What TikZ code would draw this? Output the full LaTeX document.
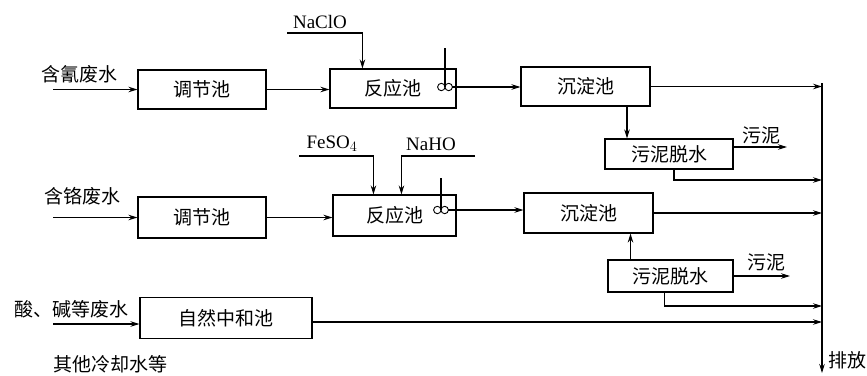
\documentclass[tikz,border=0pt]{standalone}
\usepackage{fontspec}
\setmainfont{Liberation Serif}
\newfontfamily\cjk{Noto Sans CJK SC}
\usetikzlibrary{arrows.meta}

\begin{document}
\begin{tikzpicture}[x=1pt,y=-1pt,line width=1.1pt,
	box/.style={draw,inner sep=0pt,font=\cjk\fontsize{19}{21}\selectfont},
	lbl/.style={inner sep=0pt,font=\cjk\fontsize{19}{21}\selectfont},
	chem/.style={inner sep=0pt,font=\fontsize{19}{22}\selectfont},
	>={Stealth[length=9pt,width=5.5pt]}]
	\useasboundingbox (0,0) rectangle (867,375);
	
	\node[box,minimum width=128pt,minimum height=39pt] (tj1) at (202,89.5) {调节池};
	\node[box,minimum width=126pt,minimum height=39pt] (fy1) at (393,88.5) {反应池\hspace{12pt}};
	\node[box,minimum width=129pt,minimum height=39pt] (cd1) at (585.5,86.5) {沉淀池};
	\node[box,minimum width=128pt,minimum height=30pt] (ws1) at (669,154) {污泥脱水};
	
	\node[box,minimum width=128pt,minimum height=41pt] (tj2) at (202,217.5) {调节池};
	\node[box,minimum width=123pt,minimum height=41pt] (fy2) at (394.5,215.5) {反应池\hspace{12pt}};
	\node[box,minimum width=129pt,minimum height=40pt] (cd2) at (588.5,213) {沉淀池};
	\node[box,minimum width=125pt,minimum height=32pt] (ws2) at (670.5,276) {污泥脱水};
	
	\node[box,minimum width=172pt,minimum height=41pt] (zh) at (226,318) {自然中和池};
	
	\node[lbl] (in1) at (79,74) {含氰废水};
	\node[lbl] (in2) at (82,196) {含铬废水};
	\node[lbl] (in3) at (71,309) {酸、碱等废水};
	\node[lbl] (in4) at (110,364) {其他冷却水等};
	\node[chem] (naclo) at (320,22) {NaClO};
	\node[chem] (feso) at (332,144) {FeSO$_4$};
	\node[chem] (naho) at (431,144) {NaHO};
	\node[lbl] (wn1) at (761,135) {污泥};
	\node[lbl] (wn2) at (766,262) {污泥};
	\node[lbl] (pf) at (847,360) {排放};
	
	\coordinate (s) at (53,0);
	\coordinate (s3) at (53,324);
	\coordinate (top) at (822,83);
	\coordinate (out) at (822,373);
	\coordinate (n1) at (287,33);
	\coordinate (f2) at (299,156);
	\coordinate (h2) at (475,156);
	\coordinate (w1) at (787,147);
	\coordinate (w2) at (790,276);
	\coordinate (r1) at (822,180);
	\coordinate (r2) at (822,306);
	\coordinate (r3) at (822,322);
	
	% mixers
	\foreach \n/\sx/\sy/\st in {1/445/87/48, 2/441/210/178} {
		\coordinate (m\n) at (\sx,\sy);
		\coordinate (me\n) at (\sx+7.4,\sy);
		\draw (\sx,\st) -- (m\n);
		\draw[line width=0.9pt] (\sx-3.7,\sy) circle (3.7pt) (\sx+3.7,\sy) circle (3.7pt);
	}
	
	\draw[->] (s |- tj1.west) -- (tj1.west);
	\draw[->] (s |- tj2.west) -- (tj2.west);
	\draw[->] (s3) -- (s3 -| zh.west);
	\draw[->] (tj1.east) -- (tj1.east -| fy1.west);
	\draw[->] (tj2.east) -- (tj2.east -| fy2.west);
	\draw[->] (me1) -- (me1 -| cd1.west);
	\draw[->] (me2) -- (me2 -| cd2.west);
	
	\draw[->] (n1) -| ([xshift=33pt]fy1.north west);
	\draw[->] (f2) -| ([xshift=41pt]fy2.north west);
	\draw[->] (h2) -| ([xshift=69pt]fy2.north west);
	
	\draw[->] ([xshift=41.5pt]cd1.south) -- ([xshift=41.5pt]cd1.south |- ws1.north);
	\draw[->] ([xshift=-40pt]ws2.north) -- ([xshift=-40pt]ws2.north |- cd2.south);
	\draw[->] (ws1.east |- w1) -- (w1);
	\draw[->] (ws2.east |- w2) -- (w2);
	
	\draw[->] (top) -- (out);
	\draw[->] (cd1.east) -- (cd1.east -| out);
	\draw[->] (cd2.east) -- (cd2.east -| out);
	\draw[->] ([xshift=5pt]ws1.south) |- (r1);
	\draw[->] ([xshift=-6pt]ws2.south) |- (r2);
	\draw[->] (zh.east |- r3) -- (r3);
\end{tikzpicture}
\end{document}
